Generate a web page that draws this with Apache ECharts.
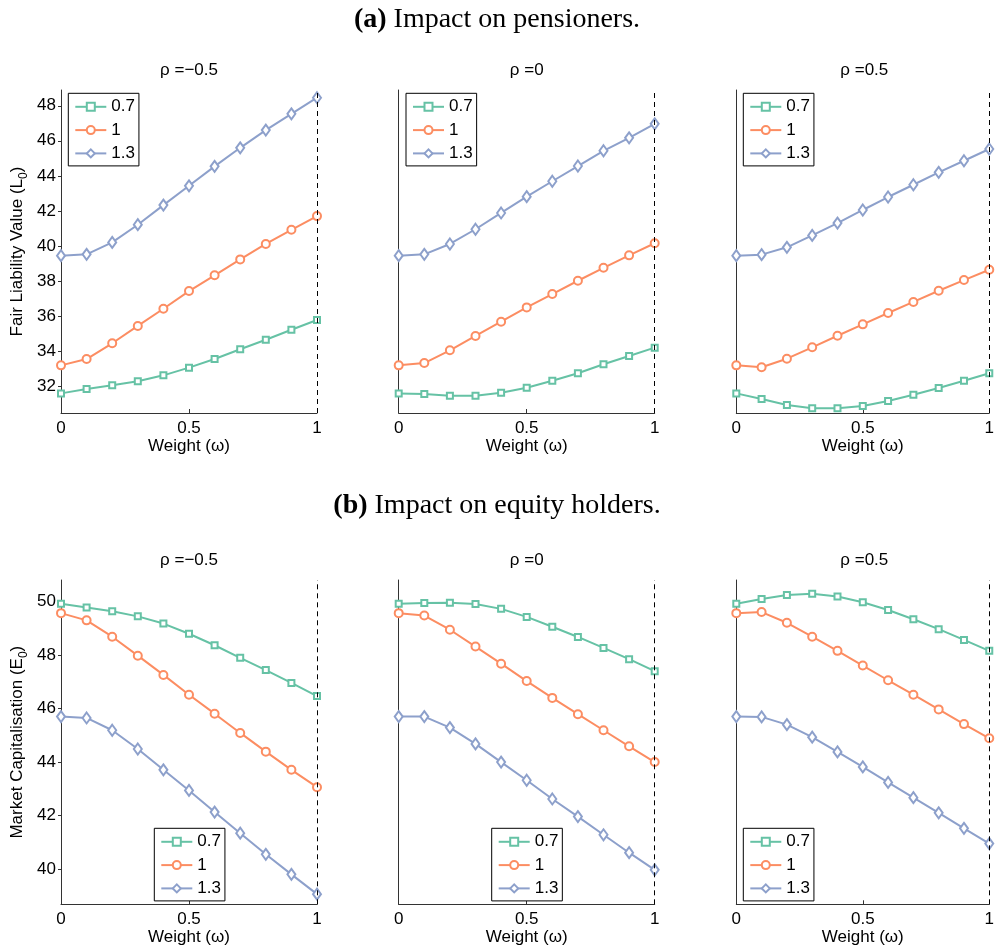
<!DOCTYPE html>
<html>
<head>
<meta charset="utf-8">
<script src="https://cdn.jsdelivr.net/npm/echarts@6/dist/echarts.min.js"></script>
<style>
  html, body { margin: 0; padding: 0; background: #fff; }
  #chart { width: 997px; height: 952px; }
</style>
</head>
<body>
<div id="chart"></div>
<script>
// Weight grid shared by every panel
const weights = [0, 0.1, 0.2, 0.3, 0.4, 0.5, 0.6, 0.7, 0.8, 0.9, 1];

// Fair liability value L0, by correlation rho and volatility multiplier
const L_neg05_07 = [31.58, 31.83, 32.04, 32.27, 32.61, 33.05, 33.54, 34.10, 34.64, 35.21, 35.77];
const L_neg05_10 = [33.18, 33.54, 34.44, 35.43, 36.41, 37.42, 38.32, 39.23, 40.11, 40.92, 41.70];
const L_neg05_13 = [39.44, 39.52, 40.20, 41.21, 42.33, 43.43, 44.54, 45.60, 46.61, 47.54, 48.46];
const L_0_07 = [31.58, 31.54, 31.45, 31.45, 31.62, 31.90, 32.30, 32.73, 33.24, 33.71, 34.19];
const L_0_10 = [33.18, 33.31, 34.04, 34.86, 35.67, 36.49, 37.25, 38.01, 38.75, 39.46, 40.15];
const L_0_13 = [39.44, 39.52, 40.11, 40.95, 41.88, 42.81, 43.69, 44.56, 45.43, 46.17, 46.97];
const L_pos05_07 = [31.58, 31.26, 30.92, 30.73, 30.73, 30.86, 31.15, 31.50, 31.89, 32.30, 32.73];
const L_pos05_10 = [33.18, 33.07, 33.56, 34.21, 34.87, 35.52, 36.17, 36.80, 37.44, 38.05, 38.64];
const L_pos05_13 = [39.44, 39.50, 39.92, 40.60, 41.30, 42.05, 42.79, 43.49, 44.20, 44.86, 45.53];

// Market capitalisation E0, by correlation rho and volatility multiplier
const E_neg05_07 = [49.92, 49.78, 49.64, 49.45, 49.18, 48.80, 48.37, 47.90, 47.44, 46.96, 46.47];
const E_neg05_10 = [49.57, 49.30, 48.69, 47.98, 47.26, 46.52, 45.81, 45.09, 44.39, 43.71, 43.06];
const E_neg05_13 = [45.70, 45.65, 45.19, 44.49, 43.71, 42.94, 42.13, 41.34, 40.55, 39.80, 39.06];
const E_0_07 = [49.92, 49.95, 49.96, 49.91, 49.73, 49.43, 49.06, 48.68, 48.27, 47.85, 47.40];
const E_0_10 = [49.57, 49.48, 48.95, 48.32, 47.68, 47.03, 46.40, 45.79, 45.19, 44.59, 44.00];
const E_0_13 = [45.70, 45.70, 45.29, 44.68, 44.00, 43.32, 42.62, 41.96, 41.28, 40.61, 39.97];
const E_pos05_07 = [49.92, 50.10, 50.25, 50.30, 50.19, 49.98, 49.69, 49.34, 48.97, 48.57, 48.16];
const E_pos05_10 = [49.57, 49.61, 49.21, 48.69, 48.16, 47.61, 47.06, 46.52, 45.97, 45.42, 44.89];
const E_pos05_13 = [45.70, 45.69, 45.40, 44.93, 44.38, 43.82, 43.24, 42.67, 42.10, 41.52, 40.95];

// Labels and ticks
const rhoTitles = ['\u03c1 =\u22120.5', '\u03c1 =0', '\u03c1 =0.5'];
const volNames = ['0.7', '1', '1.3'];
const liabilityTicks = [32, 34, 36, 38, 40, 42, 44, 46, 48];
const capTicks = [40, 42, 44, 46, 48, 50];
const weightTicks = [0, 0.5, 1];
const rowTitles = ['{b|(a)} Impact on pensioners.', '{b|(b)} Impact on equity holders.'];
const yNames = ['{a|Fair Liability Value (L}{s|0}{a|)}', '{a|Market Capitalisation (E}{s|0}{a|)}'];
const xName = 'Weight (\u03c9)';

const panelData = [
  [[L_neg05_07, L_neg05_10, L_neg05_13], [L_0_07, L_0_10, L_0_13], [L_pos05_07, L_pos05_10, L_pos05_13]],
  [[E_neg05_07, E_neg05_10, E_neg05_13], [E_0_07, E_0_10, E_0_13], [E_pos05_07, E_pos05_10, E_pos05_13]]
];

// Styling
const colors = ['#66c2a5', '#fc8d62', '#8da0cb'];
const symbols = ['emptyRect', 'emptyCircle', 'emptyDiamond'];
const symbolSizes = [6, 8, [8, 11]];
const FONT = 'Liberation Sans, Arial, Helvetica, sans-serif';
const SERIF = 'Liberation Serif, Times New Roman, serif';
const AXIS_COLOR = '#333';
const FS = 17;

// Panel geometry
const colLeft = [61, 398.7, 736.3];
const panelWidth = 256;
const rows = [
  { top: 90, height: 323, min: 30.46, max: 48.9, ticks: liabilityTicks, legendTop: 93.3, legendLeft: [68.3, 406, 743.3], titleY: 20 },
  { top: 580, height: 324.3, min: 38.68, max: 50.81, ticks: capTicks, legendTop: 828.3, legendLeft: [154.3, 491.7, 743.3], titleY: 506 }
];

const grid = [], xAxis = [], yAxis = [], series = [], legend = [], graphic = [];

rows.forEach((row, r) => {
  graphic.push({
    type: 'text', x: 497, y: row.titleY,
    style: {
      text: rowTitles[r], fontFamily: SERIF, fontSize: 28, fill: '#000',
      align: 'center', verticalAlign: 'middle',
      rich: { b: { fontFamily: SERIF, fontSize: 28, fontWeight: 'bold', fill: '#000' } }
    }
  });
  for (let c = 0; c < 3; c++) {
    const g = grid.length;
    grid.push({ left: colLeft[c], top: row.top, width: panelWidth, height: row.height });
    xAxis.push({
      gridIndex: g, type: 'value', min: 0, max: 1,
      axisLine: { show: true, onZero: false, lineStyle: { color: AXIS_COLOR, width: 1 } },
      axisTick: { show: true, inside: true, length: 4, customValues: weightTicks, lineStyle: { color: AXIS_COLOR } },
      axisLabel: { customValues: weightTicks, margin: 7, fontSize: FS, fontFamily: FONT, color: '#000' },
      splitLine: { show: false },
      name: xName, nameLocation: 'middle', nameGap: 24,
      nameTextStyle: { fontSize: FS, fontFamily: FONT, color: '#000' }
    });
    const first = c === 0;
    yAxis.push({
      gridIndex: g, type: 'value', min: row.min, max: row.max,
      axisLine: { show: true, onZero: false, lineStyle: { color: AXIS_COLOR, width: 1 } },
      axisTick: { show: first, inside: false, length: 3, customValues: row.ticks, lineStyle: { color: AXIS_COLOR } },
      axisLabel: { show: first, customValues: row.ticks, margin: 5, fontSize: FS, fontFamily: FONT, color: '#000' },
      splitLine: { show: false },
      name: first ? yNames[r] : '', nameLocation: 'middle', nameGap: 31, nameRotate: 90,
      nameTextStyle: {
        fontFamily: FONT, color: '#000',
        rich: {
          a: { fontSize: FS, fontFamily: FONT, color: '#000', lineHeight: 17, verticalAlign: 'middle' },
          s: { fontSize: 12, fontFamily: FONT, color: '#000', lineHeight: 25, verticalAlign: 'bottom' }
        }
      }
    });
    panelData[r][c].forEach((vals, k) => {
      const s = {
        type: 'line', name: volNames[k], xAxisIndex: g, yAxisIndex: g,
        data: weights.map((w, i) => [w, vals[i]]),
        color: colors[k], symbol: symbols[k], symbolSize: symbolSizes[k],
        showAllSymbol: true, clip: false, animation: false,
        lineStyle: { color: colors[k], width: 2 },
        itemStyle: { color: colors[k], borderWidth: 1.4 },
        emphasis: { disabled: true }
      };
      if (k === 0) {
        s.markLine = {
          silent: true, symbol: 'none', animation: false,
          label: { show: false },
          lineStyle: { color: '#000', type: [5, 4], width: 1 },
          data: [{ xAxis: 1 }]
        };
      }
      series.push(s);
    });
    legend.push({
      left: row.legendLeft[c], top: row.legendTop, orient: 'vertical',
      data: volNames, selectedMode: false,
      borderColor: '#000', borderWidth: 1, backgroundColor: '#fff',
      padding: [5, 4, 4, 6], itemWidth: 31, itemHeight: 10, itemGap: 6.3,
      textStyle: { fontSize: FS, fontFamily: FONT, color: '#000', lineHeight: 17 }
    });
    graphic.push({
      type: 'text', x: colLeft[c] + panelWidth / 2, y: row.top - 20,
      style: { text: rhoTitles[c], fontFamily: FONT, fontSize: FS, fill: '#000', align: 'center', verticalAlign: 'middle' }
    });
  }
});

const chart = echarts.init(document.getElementById('chart'), null, { renderer: 'canvas' });
chart.setOption({
  backgroundColor: '#fff',
  animation: false,
  textStyle: { fontFamily: FONT },
  grid, xAxis, yAxis, series, legend, graphic
});
</script>
</body>
</html>
